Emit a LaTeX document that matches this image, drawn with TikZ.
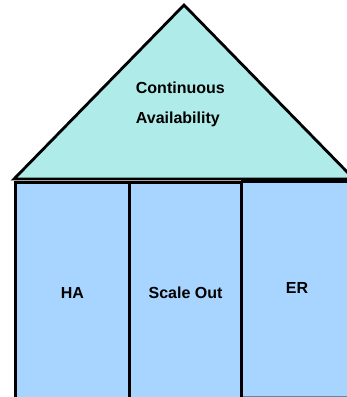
\documentclass[tikz,border=0pt]{standalone}
\usepackage{fontspec}
\setmainfont{Liberation Sans}
\definecolor{roofFill}{RGB}{175,235,233}
\definecolor{pillarFill}{RGB}{168,213,255}
\definecolor{thinEdge}{RGB}{100,130,170}
\begin{document}
\begin{tikzpicture}[x=1pt,y=-1pt,
  lbl/.style={font=\fontsize{16}{30}\selectfont\bfseries, inner sep=0pt},
  pillar/.style={draw=black, line width=3pt, fill=pillarFill, minimum width=114pt,
    minimum height=220pt, anchor=north west, inner sep=0pt, font=\fontsize{16}{19}\selectfont\bfseries},
  roof/.style={draw=black, line width=2.8pt, fill=roofFill, line join=miter}
]
\path[use as bounding box, clip] (0,0) rectangle (347,397);
% roof
\coordinate (apex) at (184,5);
\coordinate (rl) at (14,179);
\coordinate (rr) at (354,179);
\draw[roof] (apex) -- (rl) -- (rr) -- cycle;
\node[lbl, anchor=north west, align=left] (title) at (135.7,81.6) {Continuous\\Availability};
% pillars
\node[draw=thinEdge, line width=0.8pt, fill=pillarFill, anchor=north west, minimum width=113pt,
  minimum height=215pt, inner sep=0pt, font=\fontsize{16}{19}\selectfont\bfseries] (er) at (241,181) {};
\node[lbl] (erlabel) at (297,287.5) {ER};
\draw[line width=3pt] (er.north west) -- (er.north east);
\node[pillar] (ha) at (14,181) {HA};
\node[pillar, minimum width=112pt] (so) at (128,181) {Scale Out};
\end{tikzpicture}
\end{document}
